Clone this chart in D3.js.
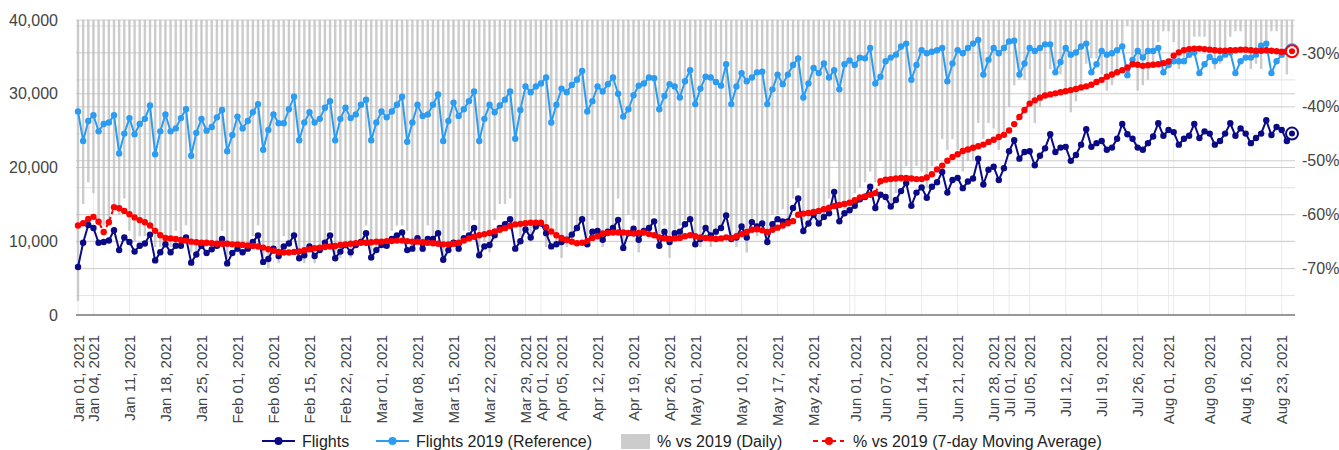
<!DOCTYPE html>
<html>
<head>
<meta charset="utf-8">
<script src="https://cdn.jsdelivr.net/npm/d3@7"></script>
<style>
  body { margin: 0; background: #fff; }
  svg text { font-family: Arial, "Liberation Sans", sans-serif; }
</style>
</head>
<body>
<svg id="chart" width="1339" height="450"></svg>
<script>
// first and last day of the series (one value per day)
const startDay = new Date(2021, 0, 1);
const endDay = new Date(2021, 7, 25);

const flights = [
  6500, 9800, 12200, 11800, 9800, 9900, 10100, 11500, 8800, 10500,
  9900, 8600, 9400, 9700, 10900, 7400, 8500, 9600, 8500, 9400,
  9400, 10500, 7100, 8200, 9400, 8400, 8900, 9400, 10300, 7000,
  8400, 9000, 8500, 9000, 9900, 10800, 7200, 7600, 9000, 8000,
  9300, 9700, 10800, 7700, 8100, 9300, 8000, 8800, 9800, 10800,
  7700, 8600, 9500, 8500, 9500, 9900, 11100, 7800, 8800, 9500,
  9400, 10300, 10800, 11200, 8800, 9000, 10400, 9000, 10300, 10300,
  11100, 7500, 8800, 9800, 9000, 10400, 10800, 11800, 8100, 9300,
  9500, 10800, 11800, 12300, 13000, 9000, 10000, 11600, 10500, 12000,
  12400, 11100, 9300, 9600, 9900, 10200, 10900, 11800, 13000, 9600,
  11300, 11400, 10200, 11300, 11800, 12900, 9100, 11100, 11700, 10200,
  11400, 11800, 12700, 9400, 11300, 9900, 11100, 11300, 12300, 13000,
  9600, 10300, 11800, 10800, 11300, 11800, 13500, 10300, 10500, 12000,
  10500, 12600, 12000, 12400, 9900, 12300, 13000, 12700, 12700, 14500,
  15800, 11400, 12400, 13600, 12400, 13300, 13800, 16700, 12700, 13800,
  14200, 14800, 15700, 16000, 17400, 14500, 16300, 16000, 14700, 15600,
  16800, 17900, 14800, 16600, 17300, 15900, 17400, 18000, 19400, 16600,
  18300, 18600, 17200, 18100, 18500, 21200, 17700, 19700, 20100, 18300,
  19900, 22200, 23700, 21200, 22100, 22200, 20300, 21600, 22600, 24500,
  22100, 22700, 22800, 20900, 21700, 23100, 25200, 22800, 23300, 23600,
  22400, 22700, 23900, 25900, 24500, 23900, 22700, 22400, 23300, 24200,
  26000, 24300, 25100, 24800, 23100, 23900, 24300, 25900, 24000, 24900,
  24600, 23100, 23600, 24600, 26000, 24300, 25300, 24600, 23300, 24000,
  24600, 26400, 24400, 25500, 25100, 23600, 24600
];

const flights2019 = [
  27600, 23600, 26300, 27100, 24900, 25900, 26100, 27100, 21900, 24600,
  26700, 24500, 25900, 26600, 28400, 21800, 24900, 27200, 24900, 25300,
  26700, 27900, 21600, 24700, 26600, 25000, 25500, 26800, 27800, 22200,
  24400, 26900, 25300, 26300, 27500, 28600, 22400, 25100, 27200, 26000,
  26000, 27900, 29600, 23700, 26100, 27500, 26100, 26600, 28100, 29000,
  23700, 26600, 28100, 26700, 27200, 28500, 29200, 23700, 26100, 27600,
  26800, 27600, 28500, 29600, 23500, 26100, 28500, 27000, 27200, 28500,
  29900, 23600, 26300, 28800, 27000, 27900, 29000, 30300, 23600, 26600,
  28500, 27500, 28400, 29200, 30300, 23900, 27800, 31000, 30200, 31000,
  31400, 32200, 26100, 28500, 30700, 30200, 31200, 31900, 33100, 27600,
  29000, 31000, 30300, 31300, 32200, 30000, 26900, 27900, 29800, 31100,
  31400, 32200, 32100, 27900, 29700, 31300, 31000, 29500, 31700, 33200,
  28600, 30700, 32300, 32200, 31600, 31100, 34000, 28600, 31000, 32800,
  31700, 32200, 32900, 33000, 28600, 30600, 32600, 31300, 32600, 33900,
  34800, 29500, 31400, 33500, 32800, 34100, 32200, 33200, 30600, 34000,
  34500, 33900, 34900, 34800, 36200, 31400, 32300, 34400, 34900, 35300,
  36400, 36800, 31900, 33900, 35900, 35500, 35700, 35900, 36200, 31700,
  34100, 35900, 35500, 36200, 36800, 37300, 32600, 34600, 36200, 35500,
  36200, 37100, 37200, 32600, 34100, 36200, 35800, 36200, 36700, 36700,
  32900, 34300, 36200, 35300, 35600, 36400, 36800, 32900, 34000, 35800,
  35300, 35500, 35900, 36400, 32500, 34600, 35800, 34900, 35800, 35800,
  36200, 32900, 33900, 34400, 34400, 34400, 35300, 35600, 32800, 34000,
  35000, 34400, 34800, 35300, 35600, 32800, 34400, 34900, 34900, 35300,
  36500, 36800, 32800, 34400, 35300, 35800, 35900
];

const pctDaily = [
  -76, -58, -54, -56, -61, -62, -61, -58, -60, -57,
  -63, -65, -64, -64, -62, -66, -66, -65, -66, -63,
  -65, -62, -67, -67, -65, -66, -65, -65, -63, -68,
  -66, -67, -66, -66, -64, -62, -68, -70, -67, -69,
  -64, -65, -64, -68, -69, -66, -69, -67, -65, -63,
  -68, -68, -66, -68, -65, -65, -62, -67, -66, -66,
  -65, -63, -62, -62, -63, -66, -64, -67, -62, -64,
  -63, -68, -67, -66, -67, -63, -63, -61, -66, -65,
  -67, -61, -58, -58, -57, -62, -64, -63, -65, -61,
  -61, -66, -64, -66, -68, -66, -65, -63, -61, -65,
  -61, -63, -66, -64, -63, -57, -66, -60, -61, -67,
  -64, -63, -60, -66, -62, -68, -64, -62, -61, -61,
  -66, -66, -63, -66, -64, -62, -60, -64, -66, -63,
  -67, -61, -64, -62, -65, -60, -60, -59, -61, -57,
  -55, -61, -61, -59, -62, -61, -57, -50, -58, -59,
  -59, -56, -55, -54, -52, -54, -50, -53, -58, -56,
  -54, -51, -54, -51, -52, -55, -51, -50, -46, -48,
  -46, -48, -52, -50, -50, -43, -46, -43, -44, -48,
  -45, -40, -36, -35, -35, -39, -43, -40, -38, -33,
  -33, -34, -37, -41, -39, -37, -32, -31, -31, -34,
  -37, -36, -33, -29, -25, -31, -37, -36, -35, -32,
  -28, -26, -26, -28, -33, -31, -31, -27, -27, -27,
  -30, -33, -32, -30, -27, -26, -26, -30, -33, -32,
  -33, -28, -26, -26, -29, -34, -31
];

const pctAvg = [
  -62.0, -61.6, -60.8, -60.4, -61.3, -63.2, -61.4, -58.6, -58.8, -59.3,
  -59.9, -60.5, -61.0, -61.4, -62.0, -63.0, -63.8, -64.3, -64.4, -64.5,
  -64.7, -64.8, -65.0, -65.1, -65.2, -65.2, -65.3, -65.4, -65.4, -65.4,
  -65.5, -65.5, -65.6, -65.7, -65.8, -65.9, -66.1, -66.4, -66.7, -66.9,
  -67.0, -67.0, -66.9, -66.8, -66.6, -66.4, -66.2, -66.1, -66.0, -65.9,
  -65.8, -65.6, -65.5, -65.4, -65.3, -65.2, -65.2, -65.1, -65.0, -65.0,
  -64.9, -64.9, -64.8, -64.8, -64.9, -65.0, -65.0, -65.1, -65.2, -65.3,
  -65.4, -65.5, -65.5, -65.4, -65.2, -64.8, -64.4, -64.1, -63.8, -63.6,
  -63.4, -63.1, -62.8, -62.5, -62.1, -61.8, -61.7, -61.6, -61.5, -61.5,
  -61.5, -62.3, -63.1, -63.8, -64.3, -64.7, -65.0, -65.3, -65.2, -64.9,
  -64.3, -64.0, -63.5, -63.4, -63.3, -63.3, -63.3, -63.4, -63.5, -63.4,
  -63.3, -63.6, -63.8, -64.2, -64.4, -64.5, -64.4, -64.3, -64.0, -63.8,
  -64.0, -64.2, -64.3, -64.4, -64.5, -64.4, -64.2, -64.3, -64.0, -63.6,
  -63.2, -62.8, -62.7, -62.9, -63.2, -62.8, -62.4, -62.0, -61.6, -61.2,
  -60.0, -59.8, -59.7, -59.5, -59.3, -59.0, -58.7, -58.4, -58.2, -58.0,
  -57.8, -57.3, -56.8, -56.6, -56.3, -56.0, -53.8, -53.5, -53.4, -53.3,
  -53.2, -53.2, -53.3, -53.4, -53.4, -53.1, -52.5, -51.6, -50.9, -50.0,
  -49.3, -48.8, -48.2, -47.9, -47.6, -47.3, -47.0, -46.5, -46.1, -45.6,
  -45.2, -44.4, -43.2, -41.9, -40.6, -39.4, -38.8, -38.3, -37.9, -37.7,
  -37.5, -37.3, -37.1, -36.9, -36.7, -36.4, -36.2, -35.9, -35.4, -35.0,
  -34.4, -34.0, -33.6, -33.2, -32.7, -32.1, -32.2, -32.4, -32.3, -32.2,
  -32.1, -31.9, -31.6, -30.5, -29.9, -29.5, -29.3, -29.2, -29.2, -29.3,
  -29.4, -29.5, -29.6, -29.6, -29.5, -29.5, -29.4, -29.4, -29.5, -29.6,
  -29.6, -29.5, -29.6, -29.7, -29.8, -29.8, -29.7
];

const leftTicks = [0, 10000, 20000, 30000, 40000];
const rightTicks = [-30, -40, -50, -60, -70];
const rightGrid = [-75, -70, -65, -60, -55, -50, -45, -40, -35, -30, -25];

const tickDates = [
  "2021-01-01", "2021-01-04", "2021-01-11", "2021-01-18", "2021-01-25",
  "2021-02-01", "2021-02-08", "2021-02-15", "2021-02-22", "2021-03-01",
  "2021-03-08", "2021-03-15", "2021-03-22", "2021-03-29", "2021-04-01",
  "2021-04-05", "2021-04-12", "2021-04-19", "2021-04-26", "2021-05-01",
  "2021-05-10", "2021-05-17", "2021-05-24", "2021-06-01", "2021-06-07",
  "2021-06-14", "2021-06-21", "2021-06-28", "2021-07-01", "2021-07-05",
  "2021-07-12", "2021-07-19", "2021-07-26", "2021-08-01", "2021-08-09",
  "2021-08-16", "2021-08-23"
];

const seriesNames = ["Flights", "Flights 2019 (Reference)", "% vs 2019 (Daily)", "% vs 2019 (7-day Moving Average)"];
const navy = "#0a0a86", sky = "#2b9cf2", red = "#ff0000";

const days = d3.timeDay.range(startDay, d3.timeDay.offset(endDay, 1));
const parseDay = d3.timeParse("%Y-%m-%d");

const plotTop = 20, plotBottom = 315, plotLeft = 76, plotRight = 1295;

const x = d3.scaleTime().domain([startDay, endDay]).range([78, 1292]);
const yL = d3.scaleLinear().domain([0, 40000]).range([plotBottom, plotTop]);
const yR = d3.scaleLinear().domain([-78.6, -23.9]).range([plotBottom, plotTop]);

const svg = d3.select("#chart");

// vertical grid: every monday plus first of each month
const vDates = d3.timeMonday.range(startDay, endDay).concat(d3.timeMonth.range(startDay, endDay));
svg.append("g").selectAll("line")
  .data(vDates)
  .enter().append("line")
    .attr("x1", d => x(d)).attr("x2", d => x(d))
    .attr("y1", plotTop).attr("y2", plotBottom)
    .attr("stroke", "#ebebeb");

// horizontal grid, right axis steps then left axis steps
svg.append("g").selectAll("line")
  .data(rightGrid)
  .enter().append("line")
    .attr("x1", plotLeft).attr("x2", plotRight)
    .attr("y1", d => yR(d)).attr("y2", d => yR(d))
    .attr("stroke", d => d % 10 === 0 ? "#cccccc" : "#e2e2e2");
svg.append("g").selectAll("line")
  .data(leftTicks.slice(1))
  .enter().append("line")
    .attr("x1", plotLeft).attr("x2", plotRight)
    .attr("y1", d => yL(d)).attr("y2", d => yL(d))
    .attr("stroke", "#cccccc");

// daily % bars hang from the top of the plot
svg.append("g").selectAll("rect")
  .data(pctDaily)
  .enter().append("rect")
    .attr("x", (d, i) => x(days[i]) - 1.2)
    .attr("y", plotTop)
    .attr("width", 2.4)
    .attr("height", d => Math.max(0, yR(d) - plotTop))
    .attr("fill", "#bbbbbb")
    .attr("opacity", 0.75);

// baseline
svg.append("line")
  .attr("x1", plotLeft).attr("x2", plotRight)
  .attr("y1", plotBottom).attr("y2", plotBottom)
  .attr("stroke", "#333");

function drawSeries(values, yScale, color, dashed) {
  const line = d3.line()
    .x((d, i) => x(days[i]))
    .y(d => yScale(d));
  const g = svg.append("g");
  g.append("path")
    .datum(values)
    .attr("d", line)
    .attr("fill", "none")
    .attr("stroke", color)
    .attr("stroke-width", 2)
    .attr("stroke-dasharray", dashed ? "4,3" : null);
  g.selectAll("circle")
    .data(values)
    .enter().append("circle")
      .attr("cx", (d, i) => x(days[i]))
      .attr("cy", d => yScale(d))
      .attr("r", 3.2)
      .attr("fill", color);
  // highlighted last point
  const n = values.length - 1;
  g.append("circle")
    .attr("cx", x(days[n])).attr("cy", yScale(values[n]))
    .attr("r", 6).attr("fill", "#fff")
    .attr("stroke", color).attr("stroke-width", 2);
  g.append("circle")
    .attr("cx", x(days[n])).attr("cy", yScale(values[n]))
    .attr("r", 3).attr("fill", color);
}

drawSeries(flights2019, yL, sky, false);
drawSeries(flights, yL, navy, false);
drawSeries(pctAvg, yR, red, true);

// axes
const axL = svg.append("g")
  .attr("transform", "translate(" + plotLeft + ",0)")
  .call(d3.axisLeft(yL).tickValues(leftTicks).tickSize(0).tickPadding(18).tickFormat(d3.format(",")));
const axR = svg.append("g")
  .attr("transform", "translate(" + plotRight + ",0)")
  .call(d3.axisRight(yR).tickValues(rightTicks).tickSize(0).tickPadding(7).tickFormat(d => d + "%"));
[axL, axR].forEach(a => {
  a.select(".domain").remove();
  a.selectAll("text").attr("font-size", 16).attr("fill", "#444")
    .style("font-family", "Arial, 'Liberation Sans', sans-serif");
});

const axB = svg.append("g")
  .attr("transform", "translate(0," + plotBottom + ")")
  .call(d3.axisBottom(x).tickValues(tickDates.map(parseDay)).tickSize(0).tickFormat(d3.timeFormat("%b %d, %Y")));
axB.select(".domain").remove();
axB.selectAll("text")
  .attr("transform", "rotate(-90)")
  .attr("x", -20).attr("y", 0).attr("dy", "0.35em")
  .attr("text-anchor", "end")
  .attr("font-size", 15).attr("fill", "#444")
  .style("font-family", "Arial, 'Liberation Sans', sans-serif");

// legend
const lg = svg.append("g").attr("font-size", 16).attr("fill", "#222");
const ly = 441;
[[262, navy], [376, sky]].forEach(([lx, c]) => {
  lg.append("line").attr("x1", lx).attr("x2", lx + 33).attr("y1", ly).attr("y2", ly)
    .attr("stroke", c).attr("stroke-width", 2);
  lg.append("circle").attr("cx", lx + 16.5).attr("cy", ly).attr("r", 4).attr("fill", c);
});
lg.append("rect").attr("x", 621).attr("y", 434).attr("width", 29).attr("height", 15).attr("fill", "#cccccc");
lg.append("line").attr("x1", 813).attr("x2", 844).attr("y1", ly).attr("y2", ly)
  .attr("stroke", red).attr("stroke-width", 2).attr("stroke-dasharray", "5,4");
lg.append("circle").attr("cx", 829).attr("cy", ly).attr("r", 4).attr("fill", red);
[302, 416, 657, 853].forEach((lx, i) => {
  lg.append("text").attr("x", lx).attr("y", ly).attr("dy", "0.35em").text(seriesNames[i]);
});
</script>
</body>
</html>
